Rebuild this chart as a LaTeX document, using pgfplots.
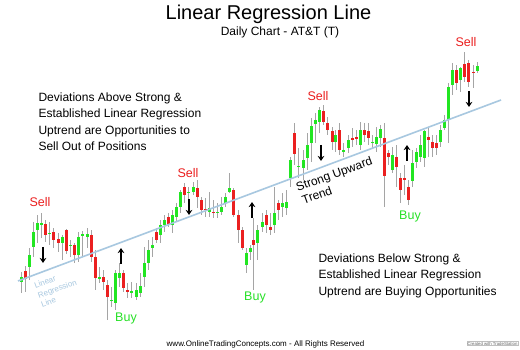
\documentclass[border=0pt]{standalone}
\usepackage{pgfplots}
\pgfplotsset{compat=1.18}
\usepackage{pgfplotstable}
\usepackage{fontspec}
\setmainfont{Liberation Sans}
\usetikzlibrary{arrows.meta}
\definecolor{cgreen}{RGB}{34,230,34}
\definecolor{cred}{RGB}{235,32,32}
\definecolor{wick}{RGB}{165,165,165}
\definecolor{regblue}{RGB}{168,200,224}
\definecolor{buyg}{RGB}{40,225,40}
\definecolor{sellr}{RGB}{235,30,30}

% x = pixel column, h = high (top), l = low (bottom), bt/bb = body top/bottom (pixel rows)
\pgfplotstableread{
x h l bt bb
21 272 293 277 282
29 248 280 255 267
33 222 257 232 247
37 215 243 223 230
41 213 238 223 225
49 222 245 233 234
62 235 260 237 243
70 240 257 245 246
78 232 262 237 255
82 231 257 234 236
87 228 248 234 237
99 267 283 277 278
111 287 307 300 301
115 270 310 273 303
119 263 287 273 278
131 282 298 291 292
136 283 300 290 297
140 273 297 286 293
144 247 287 263 277
148 240 270 250 263
152 237 257 245 248
160 220 243 225 235
164 215 232 220 225
172 210 233 215 225
176 203 222 207 217
180 190 213 192 207
188 187 208 192 193
193 182 195 187 192
209 192 217 208 212
217 203 218 212 213
221 197 215 207 212
225 193 207 197 203
229 173 193 188 192
246 248 273 253 265
250 245 260 248 252
257 225 260 230 243
262 213 232 222 227
274 187 233 213 225
282 193 217 203 207
286 190 215 202 208
290 157 187 160 178
298 148 178 166 167
303 150 180 160 168
307 133 170 145 158
311 118 162 126 143
315 113 143 120 124
319 107 133 110 122
335 130 152 135 142
343 143 157 150 152
348 135 153 140 148
360 122 150 130 145
372 135 148 142 143
376 127 152 137 144
380 125 147 129 138
392 147 173 155 170
412 150 187 163 181
416 148 168 152 162
420 135 162 145 157
424 130 167 131 158
440 125 147 130 142
444 115 130 120 128
448 83 143 87 120
452 63 95 70 85
460 67 92 68 80
477 62 73 66 71
}\gtab

\pgfplotstableread{
x h l bt bb
25 266 292 271 279
45 220 242 224 235
53 228 248 232 240
58 233 252 239 243
66 229 254 230 251
74 243 263 245 255
91 230 262 235 257
95 250 290 257 278
103 270 290 277 282
107 280 320 285 297
123 270 292 273 288
127 283 298 290 291
156 228 243 232 240
168 213 227 217 225
184 183 203 187 195
197 180 208 188 197
201 197 215 200 210
205 198 217 209 210
213 200 218 212 213
233 188 217 190 215
238 210 243 215 230
242 227 250 230 248
253 218 290 240 245
266 210 233 215 225
270 213 235 227 230
278 200 220 203 210
294 123 165 133 154
323 105 125 111 122
327 117 135 123 130
332 127 150 131 142
339 123 155 130 150
352 128 147 138 140
356 130 145 137 139
364 123 142 130 135
368 123 145 131 138
384 123 207 138 176
388 150 165 153 157
396 145 187 157 167
400 173 203 178 190
404 165 195 178 180
408 180 205 187 200
428 127 157 137 140
432 135 157 142 148
436 135 155 143 148
456 65 90 70 83
464 52 82 64 77
468 60 87 63 82
473 65 88 72 73
}\rtab

\pgfplotsset{candle/.style={only marks, mark=*, mark size=0pt,
  mark options={draw=none, fill=none}, forget plot}}

\begin{document}
\begin{tikzpicture}
\fill[white] (0,0) rectangle (520pt,350pt);
\path[use as bounding box] (0,0) rectangle (520pt,350pt);
\begin{axis}[at={(0,0)}, anchor=south west, width=520pt, height=350pt, scale only axis,
  xmin=0, xmax=520, ymin=0, ymax=350, y dir=reverse, hide axis, clip=false]

% wicks
\addplot[candle, error bars/.cd, y dir=both, y explicit,
  error mark=none, error bar style={draw=wick, line width=1pt}]
  table[x=x, y expr={(\thisrow{h}+\thisrow{l})/2}, y error expr={(\thisrow{l}-\thisrow{h})/2}] {\gtab};
\addplot[candle, error bars/.cd, y dir=both, y explicit,
  error mark=none, error bar style={draw=wick, line width=1pt}]
  table[x=x, y expr={(\thisrow{h}+\thisrow{l})/2}, y error expr={(\thisrow{l}-\thisrow{h})/2}] {\rtab};
% bodies
\addplot[candle, error bars/.cd, y dir=both, y explicit,
  error mark=none, error bar style={draw=cgreen, line width=3pt}]
  table[x=x, y expr={(\thisrow{bt}+\thisrow{bb})/2}, y error expr={max((\thisrow{bb}-\thisrow{bt})/2,0.7)}] {\gtab};
\addplot[candle, error bars/.cd, y dir=both, y explicit,
  error mark=none, error bar style={draw=cred, line width=3pt}]
  table[x=x, y expr={(\thisrow{bt}+\thisrow{bb})/2}, y error expr={max((\thisrow{bb}-\thisrow{bt})/2,0.7)}] {\rtab};

% regression line
\addplot[regblue, line width=1.6pt, forget plot] coordinates {(18,281) (501,100)};

% titles
\node[anchor=base, font=\fontsize{20}{24}\selectfont] at (axis cs:268.5,19.5) {Linear Regression Line};
\node[anchor=base, font=\fontsize{12}{14}\selectfont] at (axis cs:280,35.6) {Daily Chart - AT\&T (T)};

% text blocks
\begin{scope}[every node/.style={anchor=base west, font=\fontsize{12}{14}\selectfont}]
\node at (axis cs:35,101.5) {Deviations Above Strong \&};
\node at (axis cs:35,118) {Established Linear Regression};
\node at (axis cs:35,134.5) {Uptrend are Opportunities to};
\node at (axis cs:35,151) {Sell Out of Positions};
\node at (axis cs:315,262) {Deviations Below Strong \&};
\node at (axis cs:315,278.5) {Established Linear Regression};
\node at (axis cs:315,295) {Uptrend are Buying Opportunities};
\end{scope}

% Sell / Buy labels
\begin{scope}[every node/.style={anchor=base, font=\fontsize{12.5}{14}\selectfont}]
\node[text=sellr] at (axis cs:40,206.5) {Sell};
\node[text=sellr] at (axis cs:188,177.5) {Sell};
\node[text=sellr] at (axis cs:318,100.5) {Sell};
\node[text=sellr] at (axis cs:466,46.5) {Sell};
\node[text=buyg] at (axis cs:126,321) {Buy};
\node[text=buyg] at (axis cs:255,301) {Buy};
\node[text=buyg] at (axis cs:410,219) {Buy};
\end{scope}

% rotated texts
\node[rotate=20, inner sep=0pt, font=\fontsize{12}{14}\selectfont] at (axis cs:334.5,175) {Strong Upward};
\node[rotate=20, inner sep=0pt, font=\fontsize{12}{14}\selectfont] at (axis cs:317,195) {Trend};
\node[rotate=20, inner sep=0pt, text=regblue, font=\fontsize{8}{9}\selectfont] at (axis cs:45,282) {Linear};
\node[rotate=20, inner sep=0pt, text=regblue, font=\fontsize{8}{9}\selectfont] at (axis cs:57.5,289.5) {Regression};
\node[rotate=20, inner sep=0pt, text=regblue, font=\fontsize{8}{9}\selectfont] at (axis cs:48.5,302) {Line};

% arrows
\begin{scope}[line width=1.6pt, -{Stealth[length=5pt, width=6.5pt]}]
\draw (axis cs:43,247) -- (axis cs:43,263);
\draw (axis cs:121,264) -- (axis cs:121,248);
\draw (axis cs:189,199) -- (axis cs:189,215);
\draw (axis cs:252,218) -- (axis cs:252,202);
\draw (axis cs:321,145) -- (axis cs:321,161);
\draw (axis cs:407,161) -- (axis cs:407,145);
\draw (axis cs:469,91) -- (axis cs:469,107);
\end{scope}

% footer
\node[anchor=base, font=\fontsize{8}{9}\selectfont] at (axis cs:265.5,346) {www.OnlineTradingConcepts.com - All Rights Reserved};
\node[font=\fontsize{4.3}{5}\selectfont, text=black!60, draw=black!25, inner sep=0.6pt] at (axis cs:492.5,343.5) {Created with TradeStation};
\end{axis}
\end{tikzpicture}
\end{document}
